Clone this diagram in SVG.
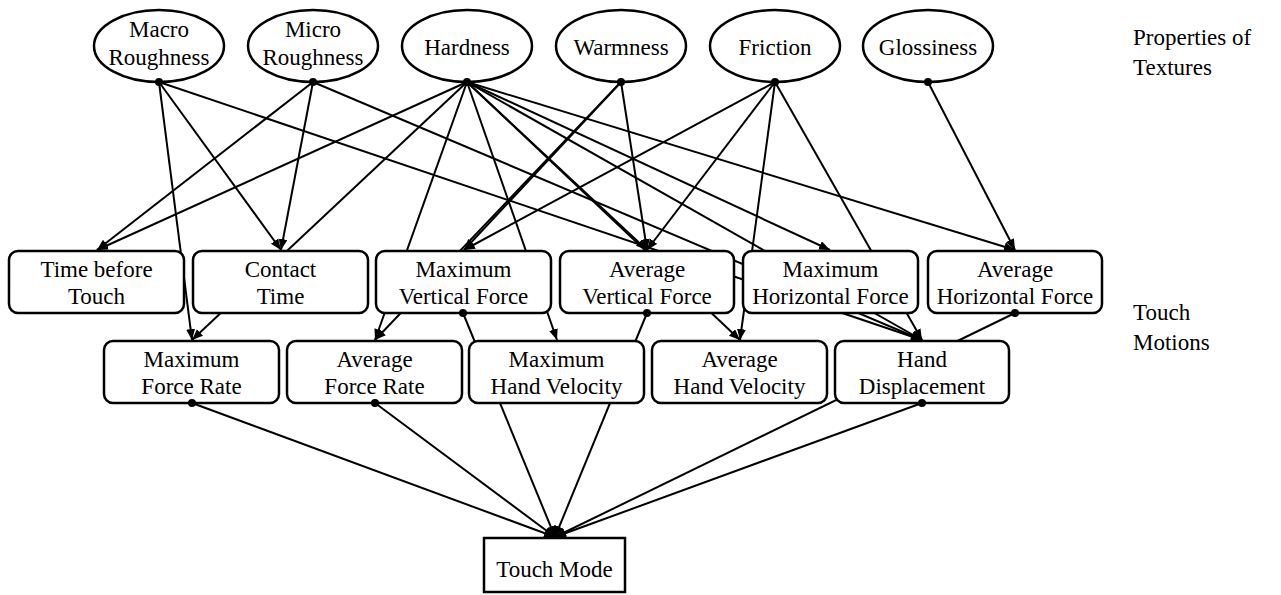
<svg xmlns="http://www.w3.org/2000/svg" width="1281" height="595" viewBox="0 0 1281 595">
<style>
.n{fill:#fff;stroke:#000;stroke-width:2.5}
.t{font-family:"Liberation Serif","Times New Roman",serif;font-size:23px;text-anchor:middle;fill:#000}
.l{font-family:"Liberation Serif","Times New Roman",serif;font-size:23px;text-anchor:start;fill:#000}
.e{stroke:#000;stroke-width:2;fill:none;marker-end:url(#arr)}
.d{fill:#000}
</style>
<defs>
<marker id="arr" markerUnits="userSpaceOnUse" markerWidth="12" markerHeight="10" refX="11" refY="4.5" orient="auto">
<path d="M0,0 L11,4.5 L0,9 z" fill="#000"/>
</marker>
</defs>
<rect width="1281" height="595" fill="#fff"/>
<g id="connectors">
<line class="e" x1="159" y1="82" x2="192" y2="340"/>
<line class="e" x1="159" y1="82" x2="281" y2="250"/>
<line class="e" x1="159" y1="82" x2="922" y2="340"/>
<line class="e" x1="313" y1="82" x2="97" y2="250"/>
<line class="e" x1="313" y1="82" x2="281" y2="250"/>
<line class="e" x1="313" y1="82" x2="922" y2="340"/>
<line class="e" x1="467" y1="82" x2="97" y2="250"/>
<line class="e" x1="467" y1="82" x2="192" y2="340"/>
<line class="e" x1="467" y1="82" x2="375" y2="340"/>
<line class="e" x1="467" y1="82" x2="557" y2="340"/>
<line class="e" x1="467" y1="82" x2="647" y2="250"/>
<line class="e" x1="467" y1="82" x2="740" y2="340"/>
<line class="e" x1="467" y1="82" x2="830" y2="250"/>
<line class="e" x1="467" y1="82" x2="922" y2="340"/>
<line class="e" x1="467" y1="82" x2="1015" y2="250"/>
<line class="e" x1="621" y1="82" x2="464" y2="250"/>
<line class="e" x1="621" y1="82" x2="647" y2="250"/>
<line class="e" x1="621" y1="82" x2="375" y2="340"/>
<line class="e" x1="775" y1="82" x2="464" y2="250"/>
<line class="e" x1="775" y1="82" x2="647" y2="250"/>
<line class="e" x1="775" y1="82" x2="740" y2="340"/>
<line class="e" x1="775" y1="82" x2="922" y2="340"/>
<line class="e" x1="928" y1="82" x2="1015" y2="250"/>
<line class="e" x1="463" y1="313" x2="555" y2="537"/>
<line class="e" x1="647" y1="313" x2="555" y2="537"/>
<line class="e" x1="1015" y1="313" x2="555" y2="537"/>
<line class="e" x1="192" y1="403" x2="555" y2="537"/>
<line class="e" x1="375" y1="403" x2="555" y2="537"/>
<line class="e" x1="922" y1="403" x2="555" y2="537"/>
</g>
<g id="macro-roughness">
<ellipse class="n" cx="159" cy="46" rx="65" ry="36"/>
<text class="t" x="159" y="37">Macro</text>
<text class="t" x="159" y="65">Roughness</text>
<circle class="d" cx="159" cy="82" r="4"/>
</g>
<g id="micro-roughness">
<ellipse class="n" cx="313" cy="46" rx="65" ry="36"/>
<text class="t" x="313" y="37">Micro</text>
<text class="t" x="313" y="65">Roughness</text>
<circle class="d" cx="313" cy="82" r="4"/>
</g>
<g id="hardness">
<ellipse class="n" cx="467" cy="46" rx="65" ry="36"/>
<text class="t" x="467" y="55">Hardness</text>
<circle class="d" cx="467" cy="82" r="4"/>
</g>
<g id="warmness">
<ellipse class="n" cx="621" cy="46" rx="65" ry="36"/>
<text class="t" x="621" y="55">Warmness</text>
<circle class="d" cx="621" cy="82" r="4"/>
</g>
<g id="friction">
<ellipse class="n" cx="775" cy="46" rx="65" ry="36"/>
<text class="t" x="775" y="55">Friction</text>
<circle class="d" cx="775" cy="82" r="4"/>
</g>
<g id="glossiness">
<ellipse class="n" cx="928" cy="46" rx="65" ry="36"/>
<text class="t" x="928" y="55">Glossiness</text>
<circle class="d" cx="928" cy="82" r="4"/>
</g>
<g id="time-before-touch">
<rect class="n" x="9" y="251" width="175" height="62" rx="9"/>
<text class="t" x="96.5" y="277">Time before</text>
<text class="t" x="96.5" y="304">Touch</text>
</g>
<g id="contact-time">
<rect class="n" x="193" y="251" width="175" height="62" rx="9"/>
<text class="t" x="280.5" y="277">Contact</text>
<text class="t" x="280.5" y="304">Time</text>
</g>
<g id="max-vertical-force">
<rect class="n" x="376" y="251" width="175" height="62" rx="9"/>
<text class="t" x="463.5" y="277">Maximum</text>
<text class="t" x="463.5" y="304">Vertical Force</text>
<circle class="d" cx="463" cy="313" r="4"/>
</g>
<g id="avg-vertical-force">
<rect class="n" x="560" y="251" width="174" height="62" rx="9"/>
<text class="t" x="647" y="277">Average</text>
<text class="t" x="647" y="304">Vertical Force</text>
<circle class="d" cx="647" cy="313" r="4"/>
</g>
<g id="max-horizontal-force">
<rect class="n" x="743" y="251" width="175" height="62" rx="9"/>
<text class="t" x="830.5" y="277">Maximum</text>
<text class="t" x="830.5" y="304">Horizontal Force</text>
</g>
<g id="avg-horizontal-force">
<rect class="n" x="928" y="251" width="174" height="62" rx="9"/>
<text class="t" x="1015" y="277">Average</text>
<text class="t" x="1015" y="304">Horizontal Force</text>
<circle class="d" cx="1015" cy="313" r="4"/>
</g>
<g id="max-force-rate">
<rect class="n" x="104" y="341" width="175" height="62" rx="9"/>
<text class="t" x="191.5" y="367">Maximum</text>
<text class="t" x="191.5" y="394">Force Rate</text>
<circle class="d" cx="192" cy="403" r="4"/>
</g>
<g id="avg-force-rate">
<rect class="n" x="287" y="341" width="175" height="62" rx="9"/>
<text class="t" x="374.5" y="367">Average</text>
<text class="t" x="374.5" y="394">Force Rate</text>
<circle class="d" cx="375" cy="403" r="4"/>
</g>
<g id="max-hand-velocity">
<rect class="n" x="469" y="341" width="175" height="62" rx="9"/>
<text class="t" x="556.5" y="367">Maximum</text>
<text class="t" x="556.5" y="394">Hand Velocity</text>
</g>
<g id="avg-hand-velocity">
<rect class="n" x="652" y="341" width="175" height="62" rx="9"/>
<text class="t" x="739.5" y="367">Average</text>
<text class="t" x="739.5" y="394">Hand Velocity</text>
</g>
<g id="hand-displacement">
<rect class="n" x="835" y="341" width="174" height="62" rx="9"/>
<text class="t" x="922" y="367">Hand</text>
<text class="t" x="922" y="394">Displacement</text>
<circle class="d" cx="922" cy="403" r="4"/>
</g>
<g id="touch-mode">
<rect class="n" x="484" y="538" width="141" height="54" stroke-width="2"/>
<text class="t" x="554.5" y="577">Touch Mode</text>
</g>
<g id="labels">
<text class="l" x="1133" y="45">Properties of</text>
<text class="l" x="1133" y="75">Textures</text>
<text class="l" x="1133" y="320">Touch</text>
<text class="l" x="1133" y="350">Motions</text>
</g>
</svg>
